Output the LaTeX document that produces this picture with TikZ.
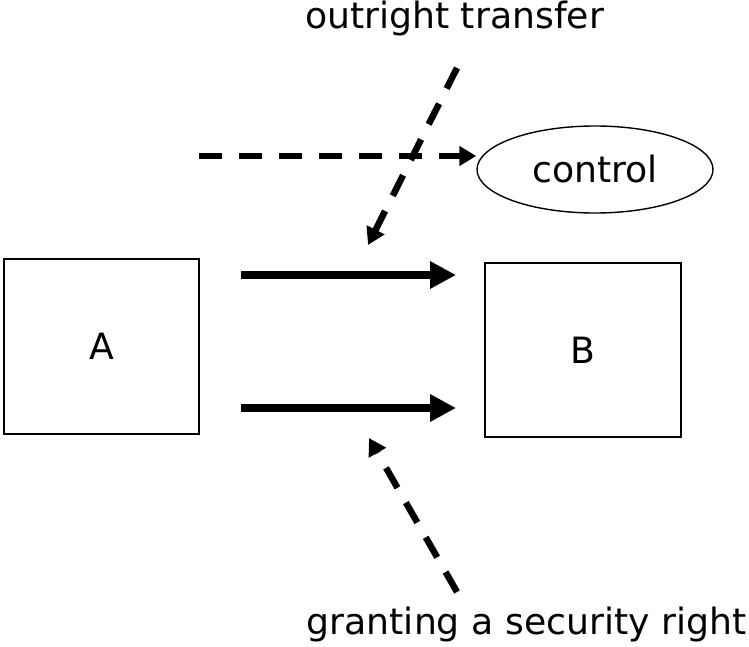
\documentclass[tikz,border=0pt]{standalone}
\usepackage{fontspec}
\setmainfont{DejaVu Sans}
\usetikzlibrary{arrows.meta,shapes.geometric}
\begin{document}
\begin{tikzpicture}[x=1pt,y=-1pt,
  label text/.style={font=\fontsize{36.2}{43}\selectfont, inner sep=0pt},
  party/.style={draw, line width=1.4pt, minimum width=195pt, minimum height=175pt,
    inner sep=0pt, label text},
  bubble/.style={draw, ellipse, line width=1.4pt, minimum width=236pt,
    minimum height=87pt, inner sep=0pt, label text},
  transfer/.style={line width=8.5pt, -{Triangle[length=26pt,width=26pt]}},
  effect/.style={line width=6.5pt, dash pattern=on 23pt off 17pt,
    -{Triangle[length=17pt,width=19pt]}}]
  \useasboundingbox (0,0) rectangle (749,647);

  % parties
  \node[party] (A) at (101.5,346.5) {A};
  \node[party, minimum width=196pt, minimum height=174pt] (B) at (583,350) {B};
  \node[bubble] (ctrl) at (595,169.5) {control};

  % captions
  \node[label text, anchor=base] (top) at (454.5,29) {outright transfer};
  \node[label text, anchor=base] (bottom) at (526.5,634) {granting a security right};

  % transfer arrows between the parties
  \coordinate (s1) at (241,275);
  \coordinate (e1) at (456,275);
  \coordinate (s2) at (241,408);
  \coordinate (e2) at (456,408);
  \draw[transfer] (s1) -- (e1);
  \draw[transfer] (s2) -- (e2);

  % dashed pointers
  \coordinate (c0) at (199,156);
  \draw[effect] (c0) -- (ctrl.west |- c0);

  \coordinate (o0) at (457,68);
  \coordinate (o1) at (368,245);
  \draw[effect] (o0) -- (o1);

  \coordinate (g0) at (457,592);
  \coordinate (g1) at (369,438);
  \draw[effect] (g0) -- (g1);
\end{tikzpicture}
\end{document}
